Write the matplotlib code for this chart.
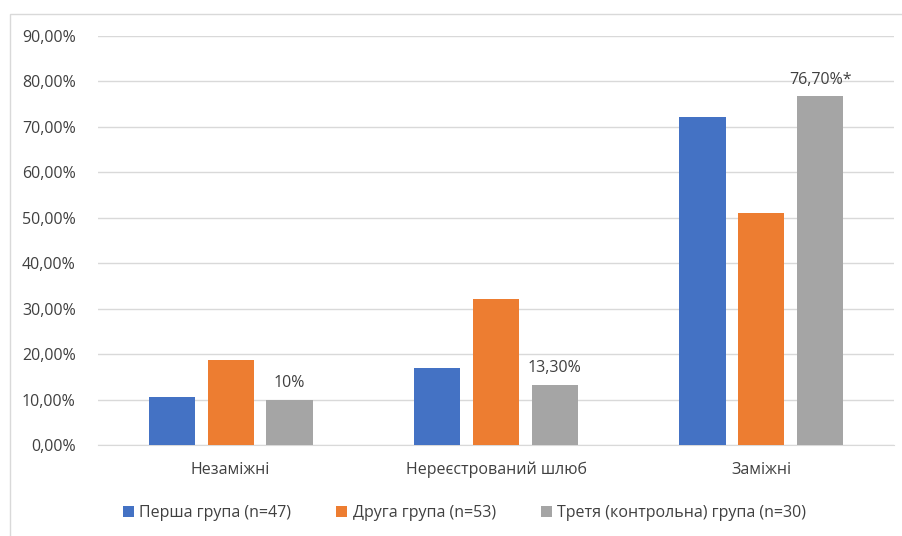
import numpy as np
import matplotlib.pyplot as plt
from matplotlib.patches import Rectangle

categories = ['Незаміжні', 'Нереєстрований шлюб', 'Заміжні']
series_names = ['Перша група (n=47)', 'Друга група (n=53)', 'Третя (контрольна) група (n=30)']
first = [10.6, 16.9, 72.2]
second = [18.8, 32.1, 51.0]
third = [10.0, 13.3, 76.7]
third_labels = ['10%', '13,30%', '76,70%*']
colors = ['#4472C4', '#ED7D31', '#A5A5A5']

plt.rcParams['font.family'] = ['Open Sans', 'DejaVu Sans']
txt = '#404040'
fs = 11.5

fig = plt.figure(figsize=(9.02, 5.36), dpi=100)
fig.patches.append(Rectangle((10 / 902, -0.01), 1.0, 1 - 14 / 536 + 0.01, transform=fig.transFigure,
                             fill=False, edgecolor='#d9d9d9', linewidth=1))
ax = fig.add_axes([98 / 902, 1 - 445 / 536, (894 - 98) / 902, (445 - 36) / 536])

x = np.arange(len(categories))
w = 0.174
step = 0.222
for i, vals in enumerate([first, second, third]):
    ax.bar(x + (i - 1) * step, vals, width=w, color=colors[i], label=series_names[i], zorder=3)

for xi, v, lab in zip(x, third, third_labels):
    ax.text(xi + step, v + 1.8, lab, ha='center', va='bottom', fontsize=fs, color=txt)

ax.set_xlim(-0.5, 2.5)
ax.set_ylim(0, 90)
ax.set_yticks(np.arange(0, 91, 10))
ax.set_yticklabels([f'{t},00%' for t in range(0, 91, 10)], fontsize=fs, color=txt)
ax.set_xticks(x)
ax.set_xticklabels(categories, fontsize=fs, color=txt)
ax.tick_params(length=0)
ax.tick_params(axis='x', pad=12)
ax.tick_params(axis='y', pad=16)
ax.grid(axis='y', color='#d9d9d9', linewidth=1, zorder=0)
for s in ['top', 'right', 'left']:
    ax.spines[s].set_visible(False)
ax.spines['bottom'].set_color('#d9d9d9')

fig.legend(loc='center', bbox_to_anchor=(0.515, 1 - 513 / 536), ncol=3, frameon=False,
           fontsize=fs, labelcolor=txt, handlelength=0.7, handleheight=0.7,
           handletextpad=0.35, columnspacing=2.8)

fig.savefig('out.png', dpi=100)
